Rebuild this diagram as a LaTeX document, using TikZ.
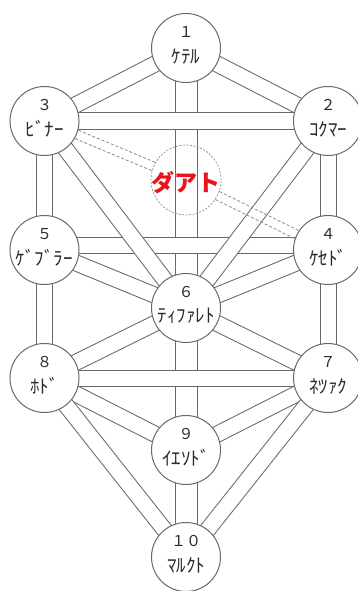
\documentclass[tikz,border=0pt]{standalone}
\usepackage{fontspec}
\newfontfamily\jp{Noto Sans CJK JP}
\usetikzlibrary{calc}
\definecolor{linegray}{HTML}{686868}
\definecolor{txtgray}{HTML}{2A2A2A}
\definecolor{datred}{HTML}{E8141B}
\definecolor{datgray}{HTML}{9A8A8A}
\definecolor{dashgray}{HTML}{8A8A8A}
\pgfdeclarelayer{bars}
\pgfsetlayers{bars,main}
\begin{document}
\begin{tikzpicture}[x=1pt,y=-1pt,
  sephira/.style={circle, draw=linegray, line width=1pt, fill=white, minimum size=69pt, inner sep=0pt},
  num/.style={font=\jp\fontsize{15}{15}\selectfont, text=txtgray, inner sep=0pt},
  lab/.style={font=\jp\fontsize{19}{19}\selectfont, text=txtgray, inner sep=0pt},
  bar/.style={draw=linegray, line width=1pt, double=white, double distance=15pt},
  wbar/.style={bar, double distance=21pt},
  dline/.style={draw=dashgray, line width=0.8pt, dash pattern=on 3pt off 2pt},
  datcirc/.style={circle, draw=datgray, line width=0.7pt, dash pattern=on 2pt off 1.5pt, minimum size=70pt, inner sep=0pt},
  dattext/.style={font=\jp\bfseries\fontsize{23}{23}\selectfont, text=datred, inner sep=0pt}]
\useasboundingbox (0,0) rectangle (358,591);
\foreach \i/\x/\y/\d/\t in {1/186/48/１/ｹﾃﾙ, 2/328/121/２/ｺｸﾏｰ, 3/44.5/121/３/ﾋﾞﾅｰ, 4/328/250/４/ｹｾﾄﾞ, 5/44.5/250/５/ｹﾞﾌﾞﾗｰ, 6/186/308/６/ﾃｨﾌｧﾚﾄ, 7/328/378/７/ﾈﾂｧｸ, 8/44.5/378/８/ﾎﾄﾞ, 9/186/450/９/ｲｴｿﾄﾞ, 10/186/557/１０/ﾏﾙｸﾄ}{
  \node[sephira] (n\i) at (\x,\y) {};
  \node[num] (d\i) at (\x,\y-16) {\d};
  \node[lab] (l\i) at (\x,\y+8) {\t};
}
\node[datcirc] (dat) at (186,180) {};
\node[dattext] (dattxt) at (186,183) {ダアト};
\begin{pgfonlayer}{bars}
  \fill[white] (0,0) rectangle (358,591);
  % verticals
  \draw[wbar] (n1.center) -- (n6.center);
  \draw[wbar] (n6.center) -- (n9.center);
  \draw[wbar] (n9.center) -- (n10.center);
  \draw[bar] (n3.center) -- (n5.center);
  \draw[bar] (n5.center) -- (n8.center);
  \draw[bar] (n2.center) -- (n4.center);
  \draw[bar] (n4.center) -- (n7.center);
  % horizontals
  \draw[bar] (n3.center) -- (n2.center);
  \draw[bar] ([yshift=5pt]n5.center) -- ([yshift=5pt]n4.center);
  \draw[bar] (n8.center) -- (n7.center);
  % diagonals
  \draw[bar] (n1.center) -- (n3.center);
  \draw[bar] (n1.center) -- (n2.center);
  \draw[bar] (n3.center) -- (n6.center);
  \draw[bar] (n2.center) -- (n6.center);
  \draw[bar] (n5.center) -- (n6.center);
  \draw[bar] (n4.center) -- (n6.center);
  \draw[bar] (n8.center) -- (n6.center);
  \draw[bar] (n7.center) -- (n6.center);
  \draw[bar] (n8.center) -- (n9.center);
  \draw[bar] (n7.center) -- (n9.center);
  \draw[bar] (n8.center) -- (n10.center);
  \draw[bar] (n7.center) -- (n10.center);
\end{pgfonlayer}
% dashed double path 3 - Daath - 4
\draw[dline] ($($(n3.center)!35pt!(dat.center)$)!4.5pt!90:(dat.center)$) -- ($($(dat.center)!35pt!(n3.center)$)!4.5pt!-90:(n3.center)$);
\draw[dline] ($($(n3.center)!35pt!(dat.center)$)!4.5pt!-90:(dat.center)$) -- ($($(dat.center)!35pt!(n3.center)$)!4.5pt!90:(n3.center)$);
\draw[dline] ($($(dat.center)!35pt!(n4.center)$)!4.5pt!90:(n4.center)$) -- ($($(n4.center)!35pt!(dat.center)$)!4.5pt!-90:(dat.center)$);
\draw[dline] ($($(dat.center)!35pt!(n4.center)$)!4.5pt!-90:(n4.center)$) -- ($($(n4.center)!35pt!(dat.center)$)!4.5pt!90:(dat.center)$);
\end{tikzpicture}
\end{document}
